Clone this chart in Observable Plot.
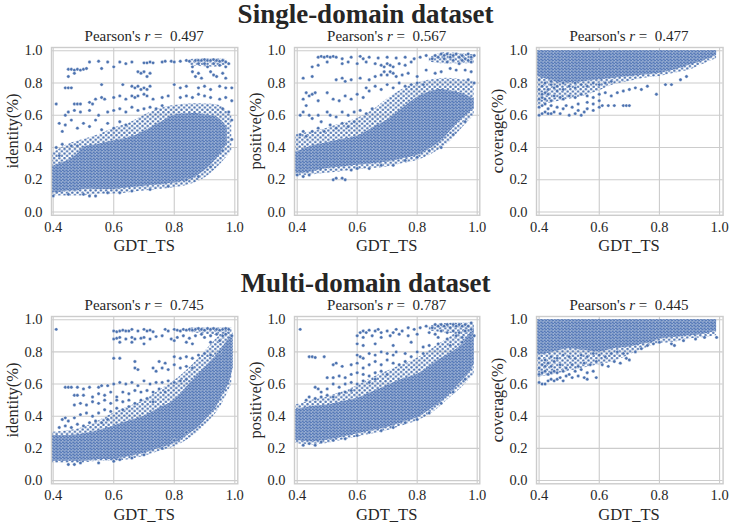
<!DOCTYPE html>
<html><head><meta charset="utf-8">
<script src="https://cdn.jsdelivr.net/npm/d3@7"></script>
<script src="https://cdn.jsdelivr.net/npm/@observablehq/plot@0.6"></script>
<style>
body{margin:0;background:#fff;}
#root{position:relative;width:731px;height:528px;overflow:hidden;font-family:"Liberation Serif","Times New Roman",serif;color:#262626;background:#fff;}
.t{position:absolute;white-space:nowrap;transform:translate(-50%,-50%);line-height:1;}
.rt{font-weight:bold;font-size:27px;}
.pt{font-size:15px;}
.xl{font-size:16.5px;}
.yl{font-size:16.5px;transform:translate(-50%,-50%) rotate(-90deg);}
#root svg{position:absolute;}
#root svg text{font-family:"Liberation Serif","Times New Roman",serif !important;font-size:14.5px !important;fill:#262626;}
</style></head><body>
<svg width="0" height="0" style="position:absolute">
  <defs>
    <pattern id="halo" patternUnits="userSpaceOnUse" width="5.2" height="4.6">
      <circle cx="1.3" cy="1.15" r="1.45" fill="#4c72b0" stroke="#fff" stroke-width="0.4"/>
      <circle cx="3.9" cy="3.45" r="1.45" fill="#4c72b0" stroke="#fff" stroke-width="0.4"/>
    </pattern>
    <pattern id="dense" patternUnits="userSpaceOnUse" width="3.4" height="3">
      <rect width="3.4" height="3" fill="#5d7ec0"/>
      <circle cx="0.85" cy="0.75" r="1.3" fill="#4c72b0" stroke="#fff" stroke-width="0.35"/>
      <circle cx="2.55" cy="2.25" r="1.3" fill="#4c72b0" stroke="#fff" stroke-width="0.35"/>
    </pattern>
  </defs>
</svg>
<div id="root"></div>
<script>
// ---- data ----
const rowTitles = ["Single-domain dataset", "Multi-domain dataset"];
const yLabels = ["identity(%)", "positive(%)", "coverage(%)"];
const xLabel = "GDT_TS";
const pearsonR = ["0.497", "0.567", "0.477", "0.745", "0.787", "0.445"];
const xTicks = [0.4, 0.6, 0.8, 1.0];
const yTicks = [0.0, 0.2, 0.4, 0.6, 0.8, 1.0];

// dense core of each cloud: [GDT_TS, lower, upper]
const coreSingleIdentity = [[0.395,0.12,0.28],[0.42,0.12,0.30],[0.45,0.13,0.32],[0.48,0.13,0.36],[0.50,0.14,0.40],[0.55,0.14,0.42],[0.60,0.14,0.44],[0.65,0.15,0.46],[0.70,0.16,0.50],[0.75,0.17,0.55],[0.80,0.18,0.60],[0.85,0.20,0.61],[0.88,0.23,0.61],[0.91,0.27,0.60],[0.94,0.33,0.59],[0.96,0.38,0.56],[0.975,0.42,0.52]];
const coreSinglePositive = [[0.395,0.24,0.37],[0.42,0.24,0.39],[0.45,0.25,0.41],[0.50,0.27,0.43],[0.55,0.28,0.45],[0.60,0.29,0.47],[0.65,0.30,0.52],[0.70,0.31,0.57],[0.75,0.33,0.64],[0.80,0.35,0.71],[0.85,0.40,0.75],[0.88,0.44,0.76],[0.91,0.50,0.75],[0.94,0.56,0.74],[0.97,0.61,0.72],[0.99,0.64,0.70]];
const coreSingleCoverage = [[0.395,0.84,1.0],[0.43,0.82,1.0],[0.47,0.80,1.0],[0.50,0.80,1.0],[0.55,0.81,1.0],[0.60,0.82,1.0],[0.65,0.83,1.0],[0.70,0.84,1.0],[0.75,0.85,1.0],[0.80,0.86,1.0],[0.85,0.88,1.0],[0.90,0.91,1.0],[0.95,0.94,1.0],[0.99,0.97,1.0]];
const coreMultiIdentity = [[0.395,0.12,0.28],[0.45,0.12,0.28],[0.50,0.12,0.29],[0.55,0.13,0.31],[0.60,0.13,0.34],[0.65,0.15,0.37],[0.70,0.17,0.40],[0.75,0.20,0.45],[0.80,0.23,0.50],[0.85,0.29,0.60],[0.88,0.33,0.66],[0.91,0.39,0.72],[0.94,0.46,0.78],[0.96,0.53,0.83],[0.98,0.60,0.88],[0.995,0.70,0.92]];
const coreMultiPositive = [[0.395,0.25,0.44],[0.45,0.24,0.46],[0.50,0.25,0.47],[0.55,0.27,0.49],[0.60,0.29,0.51],[0.65,0.31,0.55],[0.70,0.33,0.59],[0.75,0.36,0.63],[0.80,0.39,0.66],[0.85,0.45,0.72],[0.88,0.49,0.76],[0.91,0.54,0.79],[0.94,0.60,0.83],[0.97,0.66,0.90],[0.99,0.72,0.95]];
const coreMultiCoverage = [[0.395,0.78,1.0],[0.43,0.79,1.0],[0.47,0.81,1.0],[0.50,0.82,1.0],[0.55,0.81,1.0],[0.60,0.80,1.0],[0.65,0.82,1.0],[0.70,0.83,1.0],[0.75,0.85,1.0],[0.78,0.86,1.0],[0.80,0.88,1.0],[0.85,0.89,1.0],[0.90,0.90,1.0],[0.95,0.91,1.0],[0.99,0.93,1.0]];

// medium-density zones around the cores: [GDT_TS, lower, upper, zone]
const haloSingleIdentity = [[0.395,0.10,0.36,0],[0.45,0.10,0.42,0],[0.50,0.10,0.45,0],[0.55,0.11,0.48,0],[0.60,0.11,0.52,0],[0.65,0.12,0.55,0],[0.70,0.13,0.60,0],[0.75,0.14,0.64,0],[0.80,0.15,0.66,0],[0.85,0.17,0.67,0],[0.90,0.21,0.67,0],[0.95,0.29,0.66,0],[0.99,0.38,0.60,0],[0.85,0.91,0.945,1],[0.90,0.90,0.95,1],[0.95,0.90,0.95,1],[0.975,0.91,0.945,1]];
const haloSinglePositive = [[0.395,0.22,0.48,0],[0.45,0.23,0.50,0],[0.50,0.24,0.52,0],[0.55,0.25,0.55,0],[0.60,0.26,0.58,0],[0.65,0.27,0.63,0],[0.70,0.28,0.70,0],[0.75,0.30,0.76,0],[0.80,0.32,0.80,0],[0.85,0.36,0.82,0],[0.90,0.42,0.83,0],[0.95,0.52,0.82,0],[0.99,0.60,0.81,0],[0.84,0.93,0.96,1],[0.88,0.92,0.985,1],[0.93,0.92,0.985,1],[0.99,0.92,0.975,1]];
const haloSingleCoverage = [[0.395,0.66,1.0,0],[0.45,0.68,1.0,0],[0.50,0.70,1.0,0],[0.55,0.72,1.0,0],[0.60,0.75,1.0,0],[0.65,0.79,1.0,0],[0.70,0.81,1.0,0],[0.75,0.83,1.0,0],[0.80,0.84,1.0,0],[0.85,0.86,1.0,0],[0.90,0.88,1.0,0],[0.95,0.92,1.0,0],[0.99,0.95,1.0,0]];
const haloMultiIdentity = [[0.395,0.11,0.30,0],[0.45,0.11,0.31,0],[0.50,0.11,0.33,0],[0.55,0.12,0.37,0],[0.60,0.12,0.42,0],[0.65,0.13,0.46,0],[0.70,0.15,0.50,0],[0.75,0.18,0.56,0],[0.80,0.21,0.62,0],[0.85,0.26,0.70,0],[0.90,0.34,0.80,0],[0.95,0.45,0.90,0],[0.99,0.60,0.95,0],[0.85,0.92,0.95,1],[0.90,0.91,0.95,1],[0.95,0.90,0.95,1],[0.99,0.89,0.95,1]];
const haloMultiPositive = [[0.395,0.23,0.47,0],[0.45,0.22,0.50,0],[0.50,0.23,0.52,0],[0.55,0.25,0.55,0],[0.60,0.27,0.59,0],[0.65,0.29,0.64,0],[0.70,0.31,0.68,0],[0.75,0.34,0.72,0],[0.80,0.37,0.76,0],[0.85,0.42,0.82,0],[0.90,0.50,0.88,0],[0.95,0.58,0.94,0],[0.99,0.66,0.97,0],[0.84,0.93,0.96,1],[0.88,0.92,0.975,1],[0.94,0.91,0.98,1],[0.99,0.90,0.98,1]];
const haloMultiCoverage = [[0.395,0.64,1.0,0],[0.45,0.66,1.0,0],[0.50,0.68,1.0,0],[0.55,0.70,1.0,0],[0.60,0.72,1.0,0],[0.65,0.74,1.0,0],[0.70,0.78,1.0,0],[0.75,0.82,1.0,0],[0.80,0.85,1.0,0],[0.85,0.86,1.0,0],[0.90,0.88,1.0,0],[0.95,0.89,1.0,0],[0.99,0.90,1.0,0]];

// scattered points outside the core: [GDT_TS, value]
const ptsSingleIdentity = [[0.45,0.885],[0.46,0.885],[0.47,0.88],[0.48,0.885],[0.49,0.88],[0.50,0.885],[0.51,0.89],[0.47,0.86],[0.52,0.93],[0.55,0.935],[0.56,0.89],[0.58,0.93],[0.60,0.9],[0.62,0.93],[0.64,0.92],[0.66,0.93],[0.70,0.925],[0.71,0.925],[0.72,0.93],[0.73,0.925],[0.76,0.93],[0.77,0.935],[0.79,0.935],[0.80,0.93],[0.82,0.935],[0.84,0.94],[0.85,0.935],[0.87,0.94],[0.88,0.94],[0.89,0.94],[0.90,0.945],[0.91,0.94],[0.92,0.94],[0.93,0.945],[0.94,0.94],[0.95,0.935],[0.96,0.94],[0.97,0.93],[0.98,0.92],[0.88,0.92],[0.90,0.92],[0.93,0.92],[0.95,0.91],[0.86,0.9],[0.91,0.9],[0.97,0.9],[0.68,0.87],[0.69,0.86],[0.70,0.87],[0.72,0.86],[0.86,0.87],[0.88,0.86],[0.92,0.87],[0.93,0.85],[0.96,0.86],[0.45,0.84],[0.71,0.84],[0.87,0.84],[0.89,0.83],[0.94,0.84],[0.97,0.83],[0.44,0.77],[0.45,0.77],[0.46,0.77],[0.56,0.79],[0.63,0.79],[0.66,0.78],[0.67,0.77],[0.68,0.78],[0.69,0.76],[0.70,0.77],[0.71,0.76],[0.72,0.78],[0.80,0.79],[0.82,0.77],[0.84,0.78],[0.88,0.77],[0.90,0.78],[0.92,0.76],[0.95,0.78],[0.97,0.77],[0.99,0.77],[0.41,0.67],[0.47,0.67],[0.48,0.67],[0.49,0.67],[0.52,0.68],[0.53,0.67],[0.54,0.7],[0.56,0.71],[0.57,0.7],[0.60,0.71],[0.62,0.72],[0.64,0.7],[0.66,0.72],[0.67,0.71],[0.68,0.72],[0.70,0.73],[0.71,0.72],[0.73,0.7],[0.76,0.71],[0.78,0.72],[0.82,0.71],[0.84,0.72],[0.86,0.71],[0.88,0.73],[0.90,0.72],[0.92,0.71],[0.95,0.7],[0.97,0.71],[0.99,0.69],[0.44,0.6],[0.45,0.62],[0.47,0.63],[0.49,0.62],[0.52,0.63],[0.55,0.6],[0.58,0.62],[0.60,0.63],[0.62,0.64],[0.64,0.62],[0.66,0.65],[0.68,0.63],[0.70,0.64],[0.72,0.65],[0.74,0.64],[0.76,0.66],[0.96,0.64],[0.98,0.62],[0.42,0.55],[0.43,0.5],[0.44,0.54],[0.46,0.57],[0.48,0.52],[0.50,0.55],[0.52,0.53],[0.54,0.57],[0.56,0.51],[0.58,0.55],[0.60,0.52],[0.62,0.56],[0.64,0.54],[0.99,0.57],[0.99,0.45],[0.41,0.4],[0.42,0.35],[0.43,0.42],[0.46,0.41],[0.48,0.41],[0.40,0.1],[0.45,0.11],[0.50,0.11],[0.52,0.1],[0.54,0.1],[0.58,0.12],[0.62,0.12],[0.66,0.13],[0.72,0.14],[0.78,0.16],[0.84,0.2],[0.88,0.22],[0.92,0.28],[0.96,0.38]];
const ptsSinglePositive = [[0.47,0.96],[0.48,0.965],[0.49,0.96],[0.50,0.965],[0.51,0.96],[0.52,0.965],[0.53,0.96],[0.55,0.95],[0.58,0.96],[0.61,0.965],[0.62,0.95],[0.64,0.96],[0.67,0.955],[0.70,0.96],[0.73,0.955],[0.76,0.96],[0.79,0.95],[0.81,0.96],[0.83,0.97],[0.45,0.9],[0.47,0.91],[0.50,0.93],[0.55,0.92],[0.57,0.93],[0.60,0.92],[0.63,0.93],[0.66,0.92],[0.68,0.91],[0.69,0.9],[0.70,0.92],[0.71,0.91],[0.72,0.9],[0.74,0.92],[0.76,0.91],[0.78,0.93],[0.42,0.83],[0.45,0.84],[0.53,0.82],[0.55,0.83],[0.56,0.81],[0.58,0.82],[0.61,0.83],[0.64,0.82],[0.66,0.84],[0.68,0.85],[0.69,0.87],[0.70,0.85],[0.71,0.87],[0.72,0.86],[0.73,0.84],[0.75,0.85],[0.77,0.86],[0.80,0.84],[0.83,0.88],[0.86,0.86],[0.88,0.87],[0.91,0.89],[0.93,0.88],[0.96,0.88],[0.98,0.87],[0.99,0.8],[0.97,0.82],[0.43,0.74],[0.44,0.72],[0.45,0.73],[0.46,0.74],[0.42,0.7],[0.43,0.66],[0.47,0.69],[0.50,0.74],[0.52,0.7],[0.54,0.69],[0.56,0.72],[0.58,0.7],[0.60,0.73],[0.62,0.71],[0.63,0.77],[0.64,0.75],[0.66,0.78],[0.68,0.76],[0.70,0.79],[0.72,0.77],[0.74,0.8],[0.76,0.78],[0.78,0.79],[0.80,0.8],[0.82,0.79],[0.41,0.6],[0.42,0.62],[0.44,0.6],[0.45,0.58],[0.47,0.6],[0.48,0.56],[0.50,0.62],[0.51,0.6],[0.53,0.59],[0.55,0.62],[0.57,0.6],[0.59,0.62],[0.61,0.63],[0.63,0.61],[0.65,0.64],[0.41,0.48],[0.42,0.5],[0.43,0.47],[0.45,0.5],[0.47,0.52],[0.49,0.5],[0.51,0.54],[0.53,0.52],[0.55,0.55],[0.57,0.53],[0.59,0.56],[0.40,0.23],[0.42,0.22],[0.44,0.23],[0.52,0.2],[0.53,0.21],[0.55,0.21],[0.56,0.2],[0.58,0.26],[0.60,0.27],[0.64,0.27],[0.68,0.29],[0.72,0.29],[0.76,0.32],[0.80,0.34],[0.84,0.38],[0.88,0.4],[0.92,0.48],[0.96,0.56],[0.85,0.95],[0.86,0.97],[0.87,0.96],[0.88,0.98],[0.89,0.97],[0.90,0.98],[0.91,0.96],[0.92,0.97],[0.93,0.98],[0.94,0.96],[0.95,0.97],[0.96,0.95],[0.97,0.98],[0.98,0.96],[0.99,0.97],[0.89,0.95],[0.92,0.94],[0.95,0.94],[0.97,0.94],[0.90,0.93],[0.94,0.92],[0.98,0.93]];
const ptsSingleCoverage = [[0.40,0.6],[0.41,0.61],[0.42,0.62],[0.43,0.61],[0.44,0.61],[0.45,0.62],[0.47,0.61],[0.50,0.6],[0.52,0.61],[0.53,0.63],[0.54,0.6],[0.55,0.62],[0.56,0.64],[0.58,0.63],[0.60,0.65],[0.61,0.66],[0.63,0.66],[0.65,0.66],[0.68,0.66],[0.69,0.66],[0.70,0.66],[0.40,0.65],[0.41,0.66],[0.42,0.67],[0.43,0.64],[0.44,0.66],[0.46,0.65],[0.48,0.64],[0.49,0.66],[0.51,0.65],[0.53,0.67],[0.56,0.68],[0.58,0.67],[0.60,0.69],[0.40,0.7],[0.41,0.71],[0.42,0.7],[0.43,0.73],[0.45,0.72],[0.47,0.71],[0.48,0.7],[0.50,0.72],[0.52,0.71],[0.54,0.73],[0.56,0.72],[0.58,0.71],[0.60,0.73],[0.62,0.74],[0.64,0.72],[0.66,0.74],[0.68,0.75],[0.70,0.76],[0.72,0.77],[0.74,0.76],[0.76,0.78],[0.79,0.73],[0.82,0.79],[0.84,0.79],[0.87,0.82],[0.89,0.84],[0.40,0.76],[0.41,0.78],[0.42,0.8],[0.43,0.76],[0.44,0.79],[0.45,0.77],[0.46,0.78],[0.48,0.76],[0.50,0.78],[0.52,0.77],[0.54,0.79],[0.56,0.78],[0.58,0.8],[0.60,0.79],[0.62,0.8],[0.64,0.81],[0.40,0.82],[0.44,0.81],[0.48,0.8],[0.52,0.8],[0.42,0.74],[0.46,0.75],[0.44,0.69],[0.41,0.73]];
const ptsMultiIdentity = [[0.41,0.94],[0.60,0.93],[0.61,0.925],[0.62,0.93],[0.63,0.935],[0.64,0.93],[0.65,0.93],[0.66,0.94],[0.68,0.93],[0.70,0.94],[0.71,0.93],[0.72,0.935],[0.73,0.925],[0.77,0.94],[0.78,0.93],[0.80,0.94],[0.81,0.935],[0.82,0.93],[0.83,0.94],[0.84,0.935],[0.85,0.94],[0.86,0.935],[0.87,0.94],[0.88,0.945],[0.89,0.94],[0.90,0.935],[0.91,0.945],[0.92,0.94],[0.93,0.945],[0.94,0.94],[0.95,0.935],[0.96,0.94],[0.97,0.945],[0.98,0.94],[0.60,0.88],[0.61,0.885],[0.62,0.89],[0.64,0.88],[0.66,0.89],[0.67,0.88],[0.69,0.885],[0.70,0.89],[0.72,0.88],[0.74,0.895],[0.76,0.9],[0.79,0.88],[0.81,0.89],[0.83,0.9],[0.85,0.885],[0.87,0.9],[0.89,0.91],[0.90,0.89],[0.92,0.9],[0.94,0.91],[0.96,0.9],[0.97,0.91],[0.99,0.9],[0.62,0.86],[0.66,0.86],[0.70,0.85],[0.80,0.87],[0.84,0.86],[0.86,0.85],[0.92,0.86],[0.95,0.87],[0.60,0.76],[0.62,0.76],[0.67,0.74],[0.75,0.74],[0.77,0.73],[0.80,0.77],[0.82,0.76],[0.84,0.77],[0.86,0.76],[0.88,0.78],[0.90,0.79],[0.92,0.78],[0.95,0.8],[0.67,0.7],[0.68,0.69],[0.73,0.7],[0.74,0.68],[0.76,0.7],[0.78,0.69],[0.80,0.72],[0.82,0.7],[0.84,0.71],[0.86,0.7],[0.44,0.58],[0.45,0.58],[0.46,0.58],[0.48,0.58],[0.50,0.57],[0.52,0.58],[0.55,0.58],[0.56,0.59],[0.58,0.59],[0.60,0.6],[0.62,0.61],[0.64,0.6],[0.66,0.61],[0.68,0.59],[0.70,0.62],[0.72,0.6],[0.74,0.61],[0.76,0.61],[0.78,0.62],[0.80,0.61],[0.82,0.62],[0.84,0.63],[0.47,0.53],[0.48,0.53],[0.50,0.53],[0.53,0.52],[0.55,0.54],[0.57,0.53],[0.59,0.55],[0.61,0.52],[0.63,0.55],[0.65,0.54],[0.67,0.56],[0.69,0.55],[0.71,0.56],[0.73,0.55],[0.75,0.57],[0.77,0.55],[0.47,0.47],[0.49,0.48],[0.51,0.47],[0.53,0.49],[0.55,0.48],[0.57,0.5],[0.59,0.48],[0.61,0.5],[0.63,0.49],[0.65,0.5],[0.67,0.48],[0.69,0.5],[0.71,0.51],[0.73,0.49],[0.43,0.38],[0.44,0.39],[0.45,0.37],[0.47,0.39],[0.49,0.41],[0.51,0.42],[0.53,0.4],[0.55,0.42],[0.57,0.44],[0.59,0.43],[0.61,0.45],[0.63,0.44],[0.65,0.46],[0.42,0.33],[0.44,0.34],[0.46,0.33],[0.48,0.35],[0.50,0.34],[0.52,0.36],[0.54,0.37],[0.56,0.36],[0.58,0.38],[0.45,0.1],[0.47,0.1],[0.49,0.11],[0.55,0.11],[0.60,0.12],[0.62,0.13],[0.66,0.14],[0.70,0.16],[0.76,0.2],[0.80,0.25],[0.84,0.3]];
const ptsMultiPositive = [[0.41,0.94],[0.61,0.92],[0.62,0.93],[0.63,0.92],[0.64,0.935],[0.66,0.93],[0.67,0.94],[0.68,0.92],[0.70,0.93],[0.72,0.92],[0.73,0.94],[0.75,0.93],[0.77,0.95],[0.79,0.94],[0.81,0.95],[0.83,0.96],[0.85,0.95],[0.86,0.97],[0.87,0.96],[0.88,0.97],[0.89,0.96],[0.90,0.97],[0.91,0.95],[0.92,0.97],[0.93,0.96],[0.94,0.97],[0.95,0.96],[0.96,0.97],[0.97,0.96],[0.98,0.98],[0.60,0.9],[0.62,0.89],[0.65,0.9],[0.68,0.89],[0.71,0.9],[0.74,0.91],[0.77,0.9],[0.80,0.91],[0.84,0.92],[0.86,0.91],[0.88,0.93],[0.90,0.92],[0.92,0.93],[0.94,0.92],[0.96,0.93],[0.98,0.94],[0.87,0.89],[0.90,0.88],[0.93,0.9],[0.95,0.89],[0.99,0.9],[0.60,0.85],[0.62,0.84],[0.66,0.85],[0.72,0.84],[0.78,0.86],[0.82,0.83],[0.84,0.84],[0.87,0.85],[0.91,0.84],[0.95,0.86],[0.44,0.77],[0.45,0.77],[0.46,0.765],[0.49,0.77],[0.53,0.73],[0.60,0.78],[0.61,0.77],[0.62,0.76],[0.64,0.79],[0.66,0.78],[0.68,0.8],[0.70,0.79],[0.72,0.78],[0.73,0.8],[0.76,0.79],[0.78,0.77],[0.80,0.8],[0.82,0.79],[0.52,0.72],[0.55,0.71],[0.58,0.72],[0.60,0.73],[0.62,0.7],[0.64,0.72],[0.66,0.74],[0.68,0.72],[0.70,0.75],[0.72,0.73],[0.74,0.72],[0.76,0.74],[0.50,0.64],[0.52,0.64],[0.54,0.65],[0.56,0.64],[0.58,0.66],[0.60,0.67],[0.62,0.66],[0.64,0.65],[0.66,0.67],[0.68,0.68],[0.70,0.66],[0.46,0.58],[0.47,0.57],[0.48,0.55],[0.50,0.57],[0.52,0.6],[0.54,0.58],[0.56,0.6],[0.58,0.61],[0.60,0.6],[0.62,0.62],[0.64,0.61],[0.66,0.63],[0.43,0.5],[0.44,0.52],[0.46,0.51],[0.48,0.52],[0.50,0.53],[0.52,0.52],[0.54,0.54],[0.56,0.55],[0.58,0.56],[0.42,0.22],[0.44,0.23],[0.46,0.22],[0.48,0.24],[0.52,0.25],[0.56,0.26],[0.60,0.28],[0.64,0.3],[0.68,0.31],[0.72,0.33],[0.76,0.36],[0.80,0.38],[0.84,0.42],[0.88,0.48],[0.92,0.55],[0.96,0.63]];
const ptsMultiCoverage = [[0.40,0.61],[0.41,0.6],[0.42,0.6],[0.43,0.62],[0.44,0.63],[0.45,0.62],[0.46,0.63],[0.47,0.64],[0.48,0.62],[0.49,0.65],[0.51,0.64],[0.53,0.65],[0.55,0.64],[0.56,0.63],[0.59,0.64],[0.40,0.66],[0.41,0.67],[0.42,0.68],[0.43,0.66],[0.44,0.67],[0.45,0.68],[0.46,0.67],[0.48,0.68],[0.50,0.66],[0.52,0.68],[0.54,0.69],[0.56,0.67],[0.58,0.68],[0.40,0.7],[0.41,0.72],[0.42,0.71],[0.43,0.73],[0.44,0.71],[0.45,0.74],[0.47,0.72],[0.49,0.7],[0.51,0.72],[0.53,0.71],[0.55,0.73],[0.57,0.72],[0.59,0.74],[0.61,0.72],[0.63,0.71],[0.65,0.74],[0.67,0.73],[0.69,0.76],[0.70,0.75],[0.40,0.76],[0.42,0.75],[0.44,0.77],[0.46,0.76],[0.48,0.78],[0.50,0.77],[0.52,0.76],[0.54,0.78],[0.56,0.77],[0.58,0.79],[0.60,0.78],[0.62,0.77],[0.64,0.79],[0.66,0.8],[0.68,0.79],[0.72,0.8],[0.74,0.82],[0.76,0.84],[0.78,0.85],[0.80,0.86],[0.84,0.85],[0.85,0.84],[0.88,0.87],[0.92,0.88],[0.95,0.89],[0.99,0.89]];

// ---- layout ----
const root = document.getElementById("root");
const cols = [
  {l: 51, r: 237.3, dom: [0.3944, 1.0099]},
  {l: 294, r: 479.3, dom: [0.391, 1.0087]},
  {l: 535.7, r: 722.3, dom: [0.3914, 1.0116]}
];
const rows = [{t: 46.7, b: 214.5, title: 14}, {t: 316, b: 483.3, title: 283}];
const cores = [coreSingleIdentity, coreSinglePositive, coreSingleCoverage, coreMultiIdentity, coreMultiPositive, coreMultiCoverage];
const halos = [haloSingleIdentity, haloSinglePositive, haloSingleCoverage, haloMultiIdentity, haloMultiPositive, haloMultiCoverage];
const pts = [ptsSingleIdentity, ptsSinglePositive, ptsSingleCoverage, ptsMultiIdentity, ptsMultiPositive, ptsMultiCoverage];
const fmt = d3.format(".1f");

function addText(cls, html, x, y) {
  const d = document.createElement("div");
  d.className = "t " + cls;
  d.innerHTML = html;
  d.style.left = x + "px"; d.style.top = y + "px";
  root.appendChild(d);
}

rows.forEach((R, ri) => addText("rt", rowTitles[ri], 365.5, R.title));

for (let ri = 0; ri < 2; ri++) {
  for (let ci = 0; ci < 3; ci++) {
    const C = cols[ci], R = rows[ri], k = ri * 3 + ci;
    const mL = 45, mR = 6, mT = 5, mB = 30;
    const W = C.r - C.l + mL + mR, H = R.b - R.t + mT + mB;
    const core = cores[k].map(([x, lo, hi]) => ({x, lo, hi}));
    const halo = halos[k].map(([x, lo, hi, z]) => ({x, lo, hi, z}));
    const dots = pts[k].map(([x, y]) => ({x, y}));
    const svg = Plot.plot({
      width: W, height: H, marginLeft: mL, marginRight: mR, marginTop: mT, marginBottom: mB,
      style: {background: "none", overflow: "visible"},
      x: {domain: C.dom},
      y: {domain: [-0.02, 1.02]},
      marks: [
        Plot.gridX(xTicks, {stroke: "#cccccc", strokeOpacity: 1, strokeWidth: 1.1}),
        Plot.gridY(yTicks, {stroke: "#cccccc", strokeOpacity: 1, strokeWidth: 1.1}),
        Plot.areaY(halo, {x: "x", y1: "lo", y2: "hi", z: "z", fill: "url(#halo)", curve: "catmull-rom"}),
        Plot.areaY(core, {x: "x", y1: "lo", y2: "hi", fill: "url(#dense)", curve: "catmull-rom"}),
        Plot.dot(dots, {x: "x", y: "y", r: 1.7, fill: "#4c72b0", stroke: "white", strokeWidth: 0.4}),
        Plot.frame({stroke: "#cccccc", strokeWidth: 1.4}),
        Plot.axisX(xTicks, {tickSize: 0, tickPadding: 6, tickFormat: fmt, label: null, fontFamily: "Liberation Serif", fontSize: 14.5}),
        Plot.axisY(yTicks, {tickSize: 0, tickPadding: 9, tickFormat: fmt, label: null, fontFamily: "Liberation Serif", fontSize: 14.5})
      ]
    });
    svg.style.left = (C.l - mL) + "px";
    svg.style.top = (R.t - mT) + "px";
    root.appendChild(svg);
    const cx = (C.l + C.r) / 2;
    addText("pt", "Pearson's <i>r</i> =&nbsp; " + pearsonR[k], cx, R.t - 11);
    addText("xl", xLabel, cx, R.b + 31.5);
    addText("yl", yLabels[ci], C.l - 38, (R.t + R.b) / 2);
  }
}
</script>
</body></html>
